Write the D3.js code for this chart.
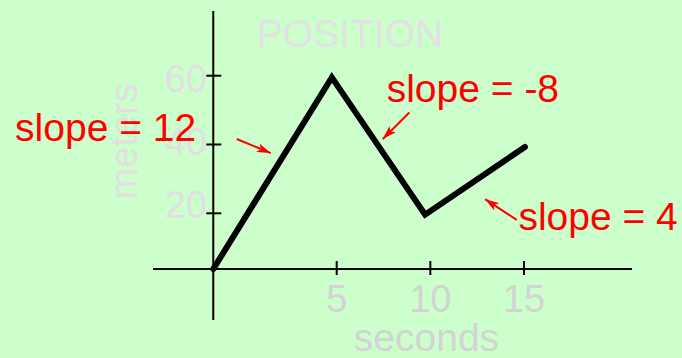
<!DOCTYPE html>
<html>
<head>
<meta charset="utf-8">
<script src="https://cdn.jsdelivr.net/npm/d3@7"></script>
<style>
  html, body { margin: 0; padding: 0; background: #ccffcc; }
  svg { display: block; }
</style>
</head>
<body>
<svg id="chart" width="682" height="358"></svg>
<script>
// ---- data ----
const times  = [-1.59, 4.74, 9.72, 15.05];   // seconds
const meters = [3.8, 59.5, 19.6, 39.3];      // meters
const xTicks = [5, 10, 15];
const yTicks = [20, 40, 60];
const titleText = "POSITION";
const xLabel = "seconds";
const yLabel = "meters";
const slopeLabels = ["slope = 12", "slope = -8", "slope = 4"];
const labelPos = [[-12.17, 40.9], [7.67, 52.5], [14.70, 15.2]];
const arrowFrom = [[-0.34, 41.6], [8.88, 49.3], [14.61, 18.1]];
const arrowTo   = [[1.48, 37.5], [7.46, 41.6], [12.92, 24.1]];
const axisCross = [-1.59, 3.8];  // where axes cross, in data units

// ---- layout ----
const svg = d3.select("#chart");
const W = 682, H = 358;
svg.append("rect").attr("width", W).attr("height", H).attr("fill", "#ccffcc");

const x = d3.scaleLinear().domain([5, 15]).range([336.7, 524.0]);
const y = d3.scaleLinear().domain([20, 60]).range([213.3, 75.7]);
const yLab = d3.scaleLinear().domain([20, 60]).range([218.3, 91.7]);

const x0 = x(axisCross[0]), y0 = y(axisCross[1]);
const font = "'Liberation Sans', Arial, Helvetica, sans-serif";

// axes lines
svg.append("line").attr("x1", 153).attr("x2", 632).attr("y1", y0).attr("y2", y0)
  .attr("stroke", "#000").attr("stroke-width", 2);
svg.append("line").attr("x1", x0).attr("x2", x0).attr("y1", 11).attr("y2", 320)
  .attr("stroke", "#000").attr("stroke-width", 2);

// x ticks
svg.selectAll(".xt").data(xTicks).enter().append("line")
  .attr("x1", d => x(d)).attr("x2", d => x(d))
  .attr("y1", y0 - 8).attr("y2", y0 + 6)
  .attr("stroke", "#000").attr("stroke-width", 2);
svg.selectAll(".xl").data(xTicks).enter().append("text")
  .attr("x", d => x(d)).attr("y", 311.5)
  .attr("text-anchor", "middle")
  .attr("font-family", font).attr("font-size", 38)
  .attr("fill", "#d3d3d3").text(d => d);

// y ticks
svg.selectAll(".yt").data(yTicks).enter().append("line")
  .attr("y1", d => y(d)).attr("y2", d => y(d))
  .attr("x1", x0 - 7).attr("x2", x0 + 8)
  .attr("stroke", "#000").attr("stroke-width", 2);
svg.selectAll(".yl").data(yTicks).enter().append("text")
  .attr("x", 207).attr("y", d => yLab(d))
  .attr("text-anchor", "end")
  .attr("font-family", font).attr("font-size", 38)
  .attr("fill", "#e0e0e0").text(d => d);

// title & axis labels
svg.append("text").attr("x", 350).attr("y", 46.5).attr("text-anchor", "middle")
  .attr("font-family", font).attr("font-size", 39).attr("fill", "#e2e2e2").text(titleText);
svg.append("text").attr("x", 426.5).attr("y", 351).attr("text-anchor", "middle")
  .attr("font-family", font).attr("font-size", 39).attr("fill", "#d3d3d3").text(xLabel);
svg.append("text").attr("transform", "translate(136.5,141.5) rotate(-90)")
  .attr("text-anchor", "middle")
  .attr("font-family", font).attr("font-size", 38).attr("fill", "#e0e0e0").text(yLabel);

// position line
const pts = times.map((t, i) => [t, meters[i]]);
svg.append("path")
  .attr("d", d3.line().x(d => x(d[0])).y(d => y(d[1]))(pts))
  .attr("fill", "none").attr("stroke", "#000").attr("stroke-width", 6)
  .attr("stroke-linecap", "round").attr("stroke-linejoin", "miter");

// arrows
svg.append("defs").append("marker")
  .attr("id", "ah").attr("viewBox", "0 0 14 9").attr("refX", 14).attr("refY", 4.5)
  .attr("markerWidth", 14).attr("markerHeight", 9).attr("markerUnits", "userSpaceOnUse")
  .attr("orient", "auto")
  .append("path").attr("d", "M0,0 L14,4.5 L0,9 L3.5,4.5 Z").attr("fill", "#ff0000");

svg.selectAll(".arr").data(arrowFrom).enter().append("line")
  .attr("x1", d => x(d[0])).attr("y1", d => y(d[1]))
  .attr("x2", (d, i) => x(arrowTo[i][0])).attr("y2", (d, i) => y(arrowTo[i][1]))
  .attr("stroke", "#ff0000").attr("stroke-width", 2)
  .attr("marker-end", "url(#ah)");

// slope labels
svg.selectAll(".sl").data(slopeLabels).enter().append("text")
  .attr("x", (d, i) => x(labelPos[i][0])).attr("y", (d, i) => y(labelPos[i][1]))
  .attr("font-family", font).attr("font-size", 39).attr("fill", "#ff0000")
  .text(d => d);
</script>
</body>
</html>
